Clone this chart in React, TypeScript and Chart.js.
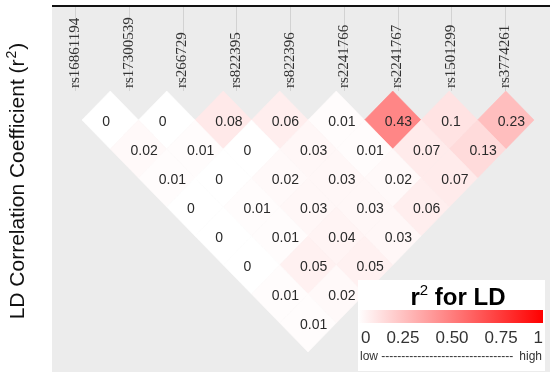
import { useEffect, useRef } from "react";
import { Chart, registerables } from "chart.js";
Chart.register(...registerables);

const snps = [
  "rs16861194",
  "rs17300539",
  "rs266729",
  "rs822395",
  "rs822396",
  "rs2241766",
  "rs2241767",
  "rs1501299",
  "rs3774261",
];

// r² values by SNP distance (row 1 = adjacent pairs)
const ldDist1 = [0, 0, 0.08, 0.06, 0.01, 0.43, 0.1, 0.23];
const ldDist2 = [0.02, 0.01, 0, 0.03, 0.01, 0.07, 0.13];
const ldDist3 = [0.01, 0, 0.02, 0.03, 0.02, 0.07];
const ldDist4 = [0, 0.01, 0.03, 0.03, 0.06];
const ldDist5 = [0, 0.01, 0.04, 0.03];
const ldDist6 = [0, 0.05, 0.05];
const ldDist7 = [0.01, 0.02];
const ldDist8 = [0.01];
const ldRows = [ldDist1, ldDist2, ldDist3, ldDist4, ldDist5, ldDist6, ldDist7, ldDist8];

const legendTicks = ["0", "0.25", "0.50", "0.75", "1"];
const yTitleMain = "LD Correlation Coefficient (r";
const yTitleSup = "2";
const yTitleEnd = ")";

function cellColor(v: number) {
  const k = Math.max(0, Math.min(1, v * 1.1));
  const g = Math.round(255 * (1 - k));
  return `rgb(255,${g},${g})`;
}

const ldPlugin = {
  id: "ldPlugin",
  beforeDraw(chart: any) {
    const { ctx, chartArea } = chart;
    const xl = chart.scales.xl;
    ctx.save();
    ctx.fillStyle = "#ececec";
    ctx.fillRect(chartArea.left, chartArea.top, chartArea.right - chartArea.left, chartArea.bottom - chartArea.top);
    ctx.fillStyle = "#111";
    ctx.fillRect(chartArea.left, chartArea.top - 2, chartArea.right - chartArea.left, 2);
    snps.forEach((name, i) => {
      const px = Math.round(xl.getPixelForValue(i)) + 0.5;
      ctx.strokeStyle = "#d2d2d2";
      ctx.lineWidth = 1;
      ctx.beginPath();
      ctx.moveTo(px, chartArea.top);
      ctx.lineTo(px, 91);
      ctx.stroke();
    });
    snps.forEach((name, i) => {
      const px = xl.getPixelForValue(i);
      ctx.save();
      ctx.translate(px, 88);
      ctx.rotate(-Math.PI / 2);
      ctx.font = "15px 'Liberation Serif'";
      ctx.fillStyle = "#333";
      ctx.textAlign = "left";
      ctx.textBaseline = "middle";
      ctx.fillText(name, 0, 0);
      ctx.restore();
    });
    ctx.restore();
  },
  beforeDatasetsDraw(chart: any) {
    const { ctx } = chart;
    const xs = chart.scales.x;
    const ys = chart.scales.y;
    const data = chart.data.datasets[0].data as any[];
    ctx.save();
    data.forEach((p) => {
      const l = xs.getPixelForValue(p.x - 0.5);
      const r = xs.getPixelForValue(p.x + 0.5);
      const c = xs.getPixelForValue(p.x);
      const t = ys.getPixelForValue(p.y - 1);
      const b = ys.getPixelForValue(p.y + 1);
      const m = ys.getPixelForValue(p.y);
      ctx.beginPath();
      ctx.moveTo(c, t);
      ctx.lineTo(r, m);
      ctx.lineTo(c, b);
      ctx.lineTo(l, m);
      ctx.closePath();
      ctx.fillStyle = cellColor(p.v);
      ctx.fill();
      ctx.strokeStyle = cellColor(p.v);
      ctx.lineWidth = 0.6;
      ctx.stroke();
    });
    ctx.font = "14px 'Liberation Sans'";
    ctx.fillStyle = "#2a2a2a";
    ctx.textAlign = "left";
    ctx.textBaseline = "middle";
    data.forEach((p) => {
      const c = xs.getPixelForValue(p.x);
      const m = ys.getPixelForValue(p.y);
      ctx.fillText(String(p.v), c - 8, m + 2);
    });
    ctx.restore();
  },
  afterDraw(chart: any) {
    const { ctx } = chart;
    ctx.save();
    // y title with superscript
    ctx.translate(24, 181);
    ctx.rotate(-Math.PI / 2);
    ctx.fillStyle = "#111";
    ctx.textAlign = "left";
    ctx.textBaseline = "alphabetic";
    ctx.font = "21px 'Liberation Sans'";
    const wMain = ctx.measureText(yTitleMain).width;
    const wEnd = ctx.measureText(yTitleEnd).width;
    ctx.font = "14px 'Liberation Sans'";
    const wSup = ctx.measureText(yTitleSup).width;
    let ty = -(wMain + wSup + wEnd + 2) / 2;
    ctx.font = "21px 'Liberation Sans'";
    ctx.fillText(yTitleMain, ty, 0);
    ty += wMain + 1;
    ctx.font = "14px 'Liberation Sans'";
    ctx.fillText(yTitleSup, ty, -8);
    ty += wSup + 1;
    ctx.font = "21px 'Liberation Sans'";
    ctx.fillText(yTitleEnd, ty, 0);
    ctx.restore();

    // legend box
    ctx.save();
    const bx = 358, by = 280, bw = 187, bh = 91;
    ctx.fillStyle = "#fff";
    ctx.fillRect(bx, by, bw, bh);
    ctx.fillStyle = "#000";
    ctx.textBaseline = "alphabetic";
    ctx.textAlign = "left";
    ctx.font = "bold 24px 'Liberation Sans'";
    const wR = ctx.measureText("r").width;
    ctx.font = "15px 'Liberation Sans'";
    const w2 = ctx.measureText("2").width;
    ctx.font = "bold 24px 'Liberation Sans'";
    const wRest = ctx.measureText(" for LD").width;
    let tx = 458 - (wR + w2 + wRest) / 2;
    ctx.fillText("r", tx, 305);
    tx += wR;
    ctx.font = "15px 'Liberation Sans'";
    ctx.fillText("2", tx, 295);
    tx += w2;
    ctx.font = "bold 24px 'Liberation Sans'";
    ctx.fillText(" for LD", tx, 305);
    const g = ctx.createLinearGradient(358, 0, 543, 0);
    g.addColorStop(0, "#ffffff");
    g.addColorStop(1, "#ff0000");
    ctx.fillStyle = g;
    ctx.fillRect(358, 310, 185, 13);
    ctx.font = "17px 'Liberation Sans'";
    ctx.fillStyle = "#333";
    ctx.textBaseline = "middle";
    const widths = legendTicks.map((t) => ctx.measureText(t).width);
    const total = widths.reduce((a, b) => a + b, 0);
    const gap = (543 - 361 - total) / (legendTicks.length - 1);
    let lx = 361;
    legendTicks.forEach((t, i) => {
      ctx.fillText(t, lx, 338);
      lx += widths[i] + gap;
    });
    ctx.font = "12px 'Liberation Sans'";
    ctx.fillText("low", 360, 357);
    const wh = ctx.measureText("high").width;
    ctx.fillText("high", 542 - wh, 357);
    const wl = ctx.measureText("low ").width;
    const dw = ctx.measureText("-").width;
    const avail = 542 - wh - 360 - wl - ctx.measureText(" ").width;
    const n = Math.floor(avail / dw);
    ctx.fillText("-".repeat(n), 360 + wl, 357);
    ctx.restore();
  },
};

export default function App() {
  const ref = useRef<HTMLCanvasElement>(null);
  useEffect(() => {
    if (!ref.current) return;
    const points: any[] = [];
    ldRows.forEach((row, d) => {
      row.forEach((v, i) => {
        const j = i + d + 1;
        points.push({ x: (i + j) / 2, y: d + 1, v });
      });
    });
    const chart = new Chart(ref.current, {
      type: "scatter",
      data: {
        datasets: [
          {
            data: points,
            pointRadius: 0,
            pointHoverRadius: 0,
          },
        ],
      },
      options: {
        animation: false,
        responsive: false,
        maintainAspectRatio: false,
        events: [],
        layout: { padding: { left: 52, top: 7, right: 0, bottom: 5 } },
        plugins: { legend: { display: false }, tooltip: { enabled: false } },
        scales: {
          x: { type: "linear", display: false, min: (52 - 82) / 56.5, max: (550 - 82) / 56.5 },
          xl: { type: "linear", axis: "x", display: false, min: (52 - 75) / 53.75, max: (550 - 75) / 53.75 },
          y: { type: "linear", display: false, reverse: true, min: (7 - 91) / 29, max: (372 - 91) / 29 },
        },
      },
      plugins: [ldPlugin],
    });
    return () => chart.destroy();
  }, []);
  return (
    <div style={{ position: "fixed", left: 0, top: 0, width: 550, height: 377, background: "#fff" }}>
      <canvas ref={ref} width={550} height={377} style={{ width: 550, height: 377 }} />
    </div>
  );
}
